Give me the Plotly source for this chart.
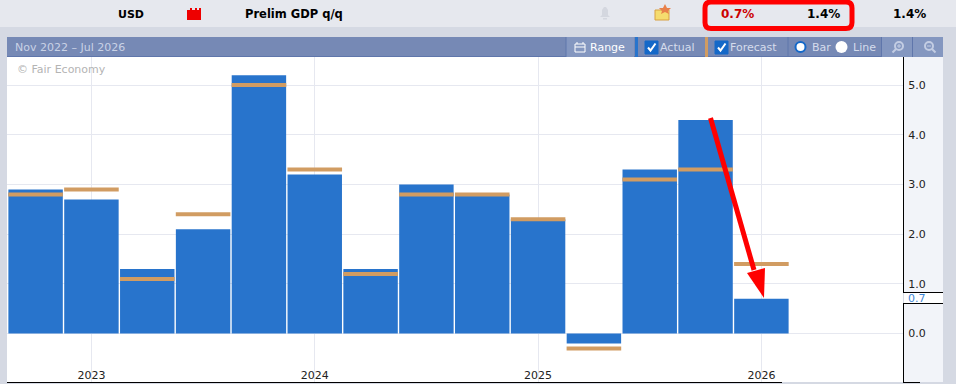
import plotly.graph_objects as go

W, H = 956, 384
FONT = "DejaVu Sans"

# ---- data ----
quarter_index = list(range(14))
actual = [2.9, 2.7, 1.3, 2.1, 5.2, 3.2, 1.3, 3.0, 2.8, 2.3, -0.2, 3.3, 4.3, 0.7]
forecast = [2.8, 2.9, 1.1, 2.4, 5.0, 3.3, 1.2, 2.8, 2.8, 2.3, -0.3, 3.1, 3.3, 1.4]
year_ticks = [1, 5, 9, 13]
year_labels = ["2023", "2024", "2025", "2026"]
y_ticks = [0, 1, 2, 3, 4, 5]
y_labels = ["0.0", "1.0", "2.0", "3.0", "4.0", "5.0"]

BLUE = "#2874cc"
TAN = "#d19c62"
GRID = "#e6e8f0"
BG = "#d5d9e3"
TOP = "#e6e8ee"
BAR = "#7689b5"
BTN = "#8497c0"
PANEL = "#f2f4f9"
RED = "#ff0000"


def X(px):
    return px / W


def Y(py):
    return 1 - py / H


shapes = []


def rect(x0, y0, x1, y1, fill, layer="below", line=None, lw=0):
    shapes.append(dict(type="rect", xref="paper", yref="paper", x0=X(x0), x1=X(x1), y0=Y(y0), y1=Y(y1),
                       fillcolor=fill, layer=layer, line=dict(color=line or fill, width=lw)))


def seg(x0, y0, x1, y1, color, w=1, layer="above"):
    shapes.append(dict(type="line", xref="paper", yref="paper", x0=X(x0), x1=X(x1), y0=Y(y0), y1=Y(y1),
                       layer=layer, line=dict(color=color, width=w)))


def path(points, fill, layer="above", close=True):
    d = "M " + " L ".join(f"{X(a):.5f},{Y(b):.5f}" for a, b in points) + (" Z" if close else "")
    shapes.append(dict(type="path", xref="paper", yref="paper", path=d, fillcolor=fill, layer=layer,
                       line=dict(color=fill, width=0)))


def circle(cx, cy, r, fill, line=None, lw=0):
    shapes.append(dict(type="circle", xref="paper", yref="paper", x0=X(cx - r), x1=X(cx + r), y0=Y(cy + r), y1=Y(cy - r),
                       fillcolor=fill, layer="above", line=dict(color=line or fill, width=lw)))


annots = []


def text(x, y, s, color="#000", size=11, anchor="left", bold=False):
    if anchor == "left":
        x -= 2
    annots.append(dict(xref="paper", yref="paper", x=X(x), y=Y(y), text=f"<b>{s}</b>" if bold else s,
                       showarrow=False, xanchor=anchor, yanchor="middle",
                       font=dict(family=FONT, size=size, color=color)))


# backgrounds
rect(0, 0, W, 27, TOP)
rect(904, 57, 943, 382, PANEL)
rect(7, 37, 943, 57, BAR)
seg(7, 56.5, 943, 56.5, "#5f76ab", 1)

# mask under x tick labels (grid stops above them)
rect(7, 368, 903, 382, "#ffffff", layer="between")

# right-axis pieces and 0.7 flag
seg(903.5, 57, 903.5, 292, "#000", 1)
seg(903.5, 303, 903.5, 382, "#000", 1)
rect(904, 292.5, 943, 303, "#ffffff", layer="above")
seg(903, 292.5, 943, 292.5, "#000", 1)
seg(903, 303.5, 943, 303.5, "#000", 1)
# bottom rule
seg(7, 382.5, 782, 382.5, "#000", 1)
seg(903, 382.5, 920, 382.5, "#000", 1)

# top strip: texts
text(131, 14, "USD", size=11, anchor="center", bold=True)
text(245, 14, "Prelim GDP q/q", size=11.5, bold=True)
text(737.5, 14, "0.7%", "#cc0000", 12, "center", True)
text(823.5, 14, "1.4%", "#000", 12, "center", True)
text(909.5, 14, "1.4%", "#000", 12, "center", True)

# impact icon (red folder-style block)
path([(187, 20), (187, 10), (190, 10), (190, 8), (192, 8), (192, 10), (195, 10), (195, 8), (197, 8), (197, 10),
      (199, 10), (199, 8), (201, 8), (201, 20)], "#ee0000")
# bell
path([(600, 17), (602, 15), (602, 10), (604, 7), (606, 7), (608, 10), (608, 15), (610, 17)], "#d4d7df")
rect(603, 18, 607, 19.5, "#d4d7df", layer="above")
# folder + star
rect(655, 10, 669, 20, "#f5dc6e", layer="above", line="#d8a040", lw=1)
path([(665, 4), (667, 8), (671, 8), (668, 11), (669, 14), (665, 12), (661, 14), (662, 11), (659, 8), (663, 8)], "#e8804a")

# red highlight box
x0, y0, x1, y1 = 705, 2, 852, 28.5
shapes.append(dict(type="path", xref="paper", yref="paper", layer="above", fillcolor="rgba(0,0,0,0)",
                   line=dict(color=RED, width=5),
                   path=(f"M {X(x0+6):.5f},{Y(y0):.5f} L {X(x1-6):.5f},{Y(y0):.5f} "
                         f"Q {X(x1):.5f},{Y(y0):.5f} {X(x1):.5f},{Y(y0+6):.5f} L {X(x1):.5f},{Y(y1-6):.5f} "
                         f"Q {X(x1):.5f},{Y(y1):.5f} {X(x1-6):.5f},{Y(y1):.5f} L {X(x0+6):.5f},{Y(y1):.5f} "
                         f"Q {X(x0):.5f},{Y(y1):.5f} {X(x0):.5f},{Y(y1-6):.5f} L {X(x0):.5f},{Y(y0+6):.5f} "
                         f"Q {X(x0):.5f},{Y(y0):.5f} {X(x0+6):.5f},{Y(y0):.5f} Z")))

# toolbar
rect(566, 37, 634, 57, BTN, layer="above")
seg(566, 37, 566, 57, "#5f76ab")
rect(575, 44, 585, 52, "rgba(0,0,0,0)", layer="above", line="#ffffff", lw=1)
seg(575, 47, 585, 47, "#ffffff")
seg(577, 42, 577, 44, "#ffffff")
seg(583, 42, 583, 44, "#ffffff")
text(15, 47, "Nov 2022 – Jul 2026", "#c9d2e6", 11)
text(590, 47.5, "Range", "#ffffff", 11)
rect(635, 37, 638, 57, BLUE, layer="above")
rect(645, 41, 658, 54, "#1468c8", layer="above", line="#1468c8", lw=1)
shapes.append(dict(type="path", xref="paper", yref="paper", layer="above", fillcolor="rgba(0,0,0,0)",
                   line=dict(color="#ffffff", width=2),
                   path=f"M {X(648):.5f},{Y(47.5):.5f} L {X(650.5):.5f},{Y(50.5):.5f} L {X(655.5):.5f},{Y(43.5):.5f}"))
text(660, 47.5, "Actual", "#d5dcec", 11)
rect(705, 37, 708, 57, TAN, layer="above")
rect(715, 41, 728, 54, "#1468c8", layer="above", line="#1468c8", lw=1)
shapes.append(dict(type="path", xref="paper", yref="paper", layer="above", fillcolor="rgba(0,0,0,0)",
                   line=dict(color="#ffffff", width=2),
                   path=f"M {X(718):.5f},{Y(47.5):.5f} L {X(720.5):.5f},{Y(50.5):.5f} L {X(725.5):.5f},{Y(43.5):.5f}"))
text(730, 47.5, "Forecast", "#d5dcec", 11)
seg(788, 37, 788, 57, "#5f76ab")
circle(800.5, 47, 5, "#ffffff", "#1468c8", 2)
text(812, 47.5, "Bar", "#d5dcec", 11)
circle(841.5, 47, 6, "#ffffff")
text(853, 47.5, "Line", "#d5dcec", 11)
rect(882, 37, 912, 57, BTN, layer="above")
rect(913, 37, 943, 57, BTN, layer="above")
seg(881.5, 37, 881.5, 57, "#5f76ab")
seg(912.5, 37, 912.5, 57, "#5f76ab")
circle(899, 46, 4, "rgba(0,0,0,0)", "#c3cde3", 2)
seg(896, 49, 892.5, 52.5, "#c3cde3", 2)
seg(897, 46, 901, 46, "#c3cde3", 1)
seg(899, 44, 899, 48, "#c3cde3", 1)
circle(929, 46, 4, "rgba(0,0,0,0)", "#c3cde3", 2)
seg(932, 49, 935.5, 52.5, "#c3cde3", 2)
seg(927, 46, 931, 46, "#c3cde3", 1)

# watermark & flag label
text(17, 70, "© Fair Economy", "#b4b4b4", 11)
text(908, 298, "0.7", "#3f86d6", 11)

# hand-drawn red arrow
seg(710.5, 118, 754, 270, RED, 5)
path([(764, 298), (747, 273), (765, 268)], RED)

fig = go.Figure()
fig.add_bar(x=quarter_index, y=actual, width=0.975, marker=dict(color=BLUE, line=dict(width=0)), name="Actual")
fig.add_scatter(x=quarter_index, y=forecast, mode="markers", name="Forecast",
                marker=dict(symbol="line-ew", size=39, line=dict(color=TAN, width=4)))

px_per_idx = 55.83
x_first = 35.6
y_unit = 49.7
y_zero = 333.6
fig.update_layout(
    width=W, height=H, autosize=False, showlegend=False,
    margin=dict(l=0, r=0, t=0, b=0, pad=0),
    paper_bgcolor=BG, plot_bgcolor="#ffffff",
    font=dict(family=FONT, size=11, color="#222"),
    xaxis=dict(domain=[X(7), X(903)],
               range=[(7 - x_first) / px_per_idx, (903 - x_first) / px_per_idx],
               tickmode="array", tickvals=year_ticks, ticktext=year_labels,
               ticklabelposition="inside", ticklabelstandoff=-2, ticks="", showgrid=True, gridcolor=GRID, gridwidth=1,
               zeroline=False, showline=False, tickfont=dict(size=11, color="#222")),
    yaxis=dict(domain=[Y(382), Y(57)], side="right",
               range=[(y_zero - 382) / y_unit, (y_zero - 57) / y_unit],
               tickmode="array", tickvals=y_ticks, ticktext=y_labels,
               ticks="outside", ticklen=2, tickcolor="rgba(0,0,0,0)",
               showgrid=True, gridcolor=GRID, gridwidth=1, zeroline=False, showline=False,
               tickfont=dict(size=11, color="#222")),
    shapes=shapes, annotations=annots,
)
fig.write_html("out.html", config=dict(displayModeBar=False),
               post_script="document.body.style.margin='0';document.body.style.overflow='hidden';")
